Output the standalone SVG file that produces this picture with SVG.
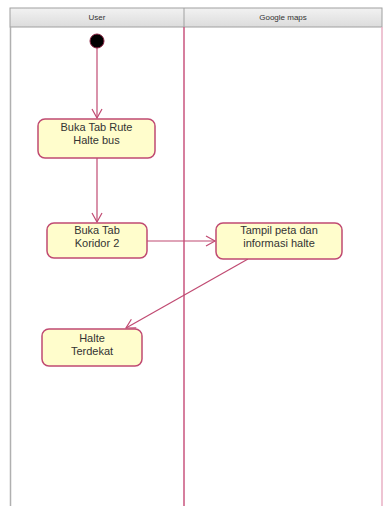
<svg xmlns="http://www.w3.org/2000/svg" width="386" height="506" viewBox="0 0 386 506">
  <style>
    .hdr { font-family: "Liberation Sans", Arial, sans-serif; font-size: 8px; fill: #333; text-anchor: middle; }
    .lbl { font-family: "Liberation Sans", Arial, sans-serif; font-size: 11px; fill: #333; text-anchor: middle; }
    .act { fill: #FFFDCC; stroke: #C04A72; stroke-width: 1.5; }
    .flow { fill: none; stroke: #C04A72; stroke-width: 1.2; }
    .lane { stroke: #C8557E; stroke-width: 1.5; }
  </style>
  <defs>
    <marker id="arrow" markerWidth="12" markerHeight="12" refX="10" refY="6" orient="auto" markerUnits="userSpaceOnUse">
      <path d="M1,1 L10,6 L1,11" fill="none" stroke="#C04A72" stroke-width="1.2"/>
    </marker>
    <linearGradient id="hdrGrad" x1="0" y1="0" x2="0" y2="1">
      <stop offset="0" stop-color="#f2f2f2"/>
      <stop offset="1" stop-color="#dcdcdc"/>
    </linearGradient>
  </defs>
  <rect width="386" height="506" fill="#ffffff"/>

  <!-- swimlanes -->
  <g id="lanes">
    <rect x="10" y="8" width="372" height="19" fill="url(#hdrGrad)" stroke="#a0a0a0" stroke-width="1"/>
    <line x1="184" y1="8" x2="184" y2="27" stroke="#a0a0a0" stroke-width="1"/>
    <text class="hdr" x="97" y="20">User</text>
    <text class="hdr" x="283" y="20">Google maps</text>
    <line x1="10.5" y1="27" x2="10.5" y2="506" stroke="#b0b0b0" stroke-width="1.5"/>
    <line class="lane" x1="184" y1="27" x2="184" y2="506"/>
    <line x1="382" y1="27" x2="382" y2="506" stroke="#E8B0C4" stroke-width="1.5"/>
  </g>

  <!-- connectors -->
  <g id="connectors">
    <line class="flow" x1="97" y1="48" x2="97" y2="118" marker-end="url(#arrow)"/>
    <line class="flow" x1="97" y1="158" x2="97" y2="222" marker-end="url(#arrow)"/>
    <line class="flow" x1="147" y1="241" x2="215" y2="241" marker-end="url(#arrow)"/>
    <line class="flow" x1="248" y1="259" x2="126" y2="328" marker-end="url(#arrow)"/>
  </g>

  <g id="start">
    <circle cx="97" cy="41" r="7" fill="#000" stroke="#8a2040" stroke-width="1"/>
  </g>

  <g id="buka-tab-rute">
    <rect class="act" x="38" y="119" width="117" height="39" rx="7"/>
    <text class="lbl" x="96.5" y="131">Buka Tab Rute</text>
    <text class="lbl" x="96.5" y="144">Halte bus</text>
  </g>

  <g id="buka-tab-koridor">
    <rect class="act" x="47" y="223" width="100" height="35" rx="7"/>
    <text class="lbl" x="97" y="234">Buka Tab</text>
    <text class="lbl" x="97" y="247">Koridor 2</text>
  </g>

  <g id="tampil-peta">
    <rect class="act" x="216" y="223" width="126" height="36" rx="7"/>
    <text class="lbl" x="279" y="234">Tampil peta dan</text>
    <text class="lbl" x="279" y="247">informasi halte</text>
  </g>

  <g id="halte-terdekat">
    <rect class="act" x="42" y="329" width="100" height="37" rx="7"/>
    <text class="lbl" x="92" y="342">Halte</text>
    <text class="lbl" x="92" y="355">Terdekat</text>
  </g>
</svg>
